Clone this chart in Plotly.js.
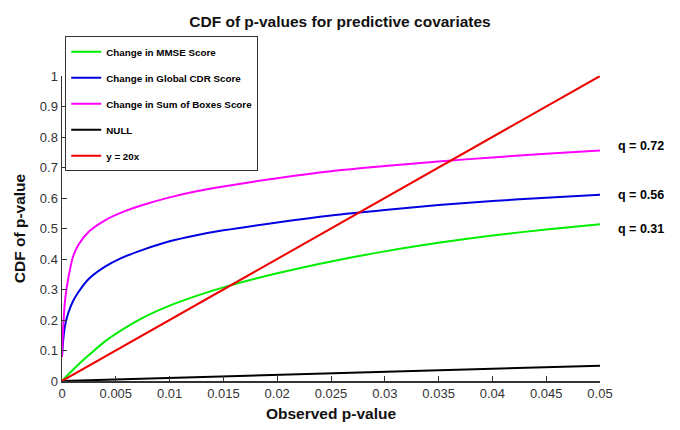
<!DOCTYPE html>
<html>
<head>
<meta charset="utf-8">
<script src="https://cdn.plot.ly/plotly-3.0.1.min.js"></script>
<style>html,body{margin:0;padding:0;background:#fff;}#chart{width:680px;height:430px;}</style>
</head>
<body>
<div id="chart"></div>
<script>
// Observed p-value grid (x)
const pValues = [0, 0.0001, 0.0003, 0.0006, 0.001, 0.0015, 0.0025, 0.004, 0.0055, 0.0075, 0.01, 0.0125, 0.015, 0.02, 0.025, 0.03, 0.035, 0.04, 0.045, 0.05];
// CDF values
const mmse   = [0, 0.0037, 0.011, 0.022, 0.036, 0.053, 0.085, 0.13, 0.166, 0.207, 0.247, 0.279, 0.307, 0.353, 0.392, 0.425, 0.453, 0.477, 0.497, 0.514];
const cdr    = [0.08, 0.13, 0.185, 0.225, 0.26, 0.29, 0.335, 0.375, 0.403, 0.43, 0.458, 0.478, 0.494, 0.52, 0.543, 0.561, 0.577, 0.59, 0.601, 0.611];
const sob    = [0.08, 0.17, 0.27, 0.34, 0.405, 0.445, 0.49, 0.527, 0.552, 0.577, 0.602, 0.622, 0.638, 0.665, 0.688, 0.705, 0.72, 0.733, 0.745, 0.756];
const nullX  = [0, 0.05];
const nullY  = [0, 0.05];
const refX   = [0, 0.05];
const refY   = [0, 1];
const seriesNames = ["Change in MMSE Score", "Change in Global CDR Score", "Change in Sum of Boxes Score", "NULL", "y = 20x"];
const qLabels = ["q = 0.72", "q = 0.56", "q = 0.31"];
const qLabelY = [0.77, 0.61, 0.50];
const xTicks = [0, 0.005, 0.01, 0.015, 0.02, 0.025, 0.03, 0.035, 0.04, 0.045, 0.05];
const xTickText = ["0", "0.005", "0.01", "0.015", "0.02", "0.025", "0.03", "0.035", "0.04", "0.045", "0.05"];
const yTicks = [0, 0.1, 0.2, 0.3, 0.4, 0.5, 0.6, 0.7, 0.8, 0.9, 1];
const yTickText = ["0", "0.1", "0.2", "0.3", "0.4", "0.5", "0.6", "0.7", "0.8", "0.9", "1"];

const colors = ["#00ee00", "#0000e0", "#ff00ff", "#000000", "#ee0000"];
const xs = [pValues, pValues, pValues, nullX, refX];
const ys = [mmse, cdr, sob, nullY, refY];

const traces = seriesNames.map((n, i) => ({
  x: xs[i], y: ys[i], name: n, type: "scatter", mode: "lines",
  line: {color: colors[i], width: 2, shape: i < 3 ? "spline" : "linear", smoothing: 0.8},
  legendgroup: "g" + i
}));

const font = "Liberation Sans, Arial, Helvetica, sans-serif";
const annotations = qLabels.map((t, i) => ({
  text: t, xref: "paper", x: 1.03, xanchor: "left", yref: "y", y: qLabelY[i],
  yanchor: "middle", showarrow: false, font: {family: font, size: 12.5, color: "#000", weight: "bold"}
}));

const layout = {
  width: 680, height: 430,
  margin: {l: 62, r: 80, t: 76, b: 49},
  paper_bgcolor: "#fff", plot_bgcolor: "#fff",
  title: {text: "<b>CDF of p-values for predictive covariates</b>", x: 0.5, xref: "container", y: 0.95, yref: "container", yanchor: "middle", font: {family: font, size: 15.5, color: "#111"}},
  xaxis: {range: [0, 0.05], tickvals: xTicks, ticktext: xTickText, ticks: "inside", ticklen: 5, tickcolor: "#333",
    showline: true, linecolor: "#333", linewidth: 1.5, showgrid: false, zeroline: false,
    tickfont: {family: font, size: 13, color: "#333"},
    title: {text: "<b>Observed p-value</b>", font: {family: font, size: 15.5, color: "#111"}, standoff: 8}},
  yaxis: {range: [0, 1], tickvals: yTicks, ticktext: yTickText, ticks: "inside", ticklen: 5, tickcolor: "#333",
    showline: true, linecolor: "#333", linewidth: 1.5, showgrid: false, zeroline: false,
    tickfont: {family: font, size: 13, color: "#333"},
    title: {text: "<b>CDF of p-value</b>", font: {family: font, size: 15.5, color: "#111"}, standoff: 10}},
  legend: {x: 0.006, xref: "paper", y: 1.13, yanchor: "top", xanchor: "left",
    bordercolor: "#333", borderwidth: 1, bgcolor: "#fff",
    traceorder: "grouped", tracegroupgap: 7,
    font: {family: font, size: 9.8, color: "#000", weight: "bold"}},
  annotations: annotations,
  showlegend: true
};

Plotly.newPlot("chart", traces, layout, {displayModeBar: false, staticPlot: true});
</script>
</body>
</html>
